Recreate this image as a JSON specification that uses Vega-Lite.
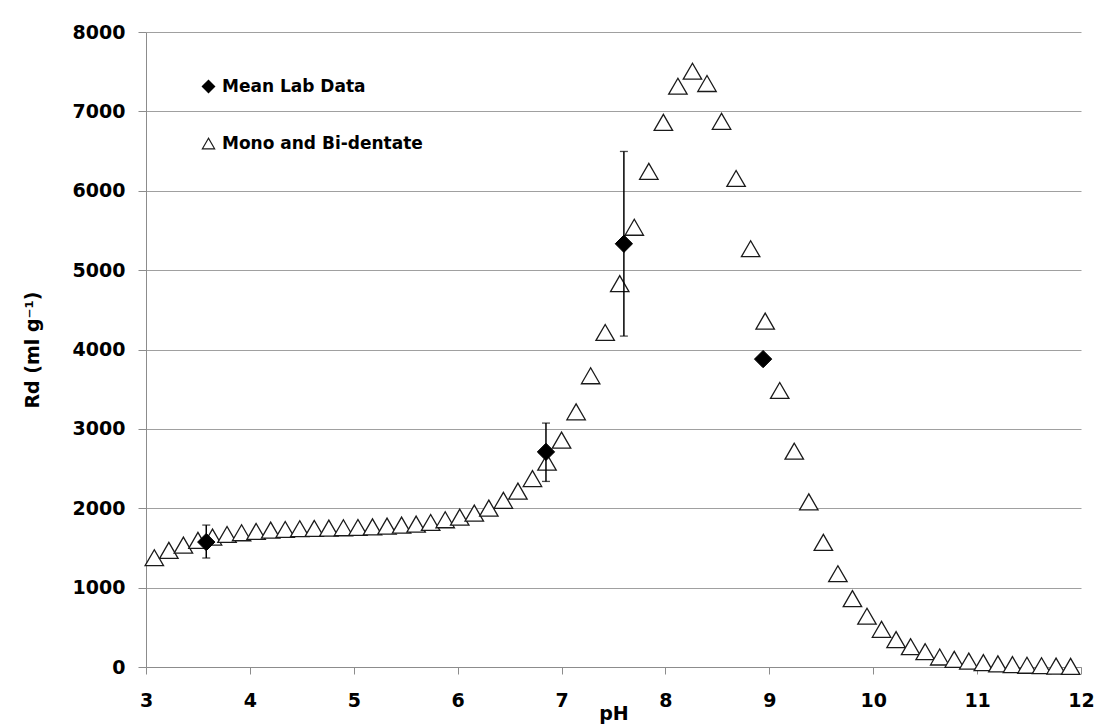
{
  "$schema": "https://vega.github.io/schema/vega-lite/v6.json",
  "width": 935,
  "height": 635,
  "autosize": {"type": "none"},
  "padding": {"left": 146, "top": 32, "right": 21, "bottom": 58},
  "background": "white",
  "config": {
    "view": {"stroke": null},
    "font": "DejaVu Sans",
    "axis": {
      "labelFont": "DejaVu Sans",
      "labelFontWeight": "bold",
      "labelFontSize": 19,
      "labelColor": "#000000",
      "titleFont": "DejaVu Sans",
      "titleFontWeight": "bold",
      "titleFontSize": 19,
      "titleColor": "#000000",
      "domainColor": "#8c8c8c",
      "tickColor": "#8c8c8c",
      "gridColor": "#a0a0a0",
      "gridWidth": 1,
      "domainWidth": 1,
      "tickWidth": 1
    },
    "legend": {
      "orient": "none",
      "legendX": 54,
      "legendY": 46,
      "direction": "vertical",
      "rowPadding": 38,
      "labelFont": "DejaVu Sans",
      "labelFontWeight": "bold",
      "labelFontSize": 17,
      "labelColor": "#000000",
      "labelOffset": 5,
      "labelLimit": 400,
      "symbolSize": 150,
      "symbolStrokeWidth": 1.2,
      "padding": 0
    }
  },
  "datasets": {
    "model": [
      {"pH": 3.08, "Rd": 1377, "series": "Mono and Bi-dentate"},
      {"pH": 3.22, "Rd": 1469, "series": "Mono and Bi-dentate"},
      {"pH": 3.36, "Rd": 1536, "series": "Mono and Bi-dentate"},
      {"pH": 3.50, "Rd": 1595, "series": "Mono and Bi-dentate"},
      {"pH": 3.64, "Rd": 1637, "series": "Mono and Bi-dentate"},
      {"pH": 3.78, "Rd": 1670, "series": "Mono and Bi-dentate"},
      {"pH": 3.92, "Rd": 1691, "series": "Mono and Bi-dentate"},
      {"pH": 4.06, "Rd": 1708, "series": "Mono and Bi-dentate"},
      {"pH": 4.20, "Rd": 1725, "series": "Mono and Bi-dentate"},
      {"pH": 4.34, "Rd": 1733, "series": "Mono and Bi-dentate"},
      {"pH": 4.48, "Rd": 1742, "series": "Mono and Bi-dentate"},
      {"pH": 4.62, "Rd": 1746, "series": "Mono and Bi-dentate"},
      {"pH": 4.76, "Rd": 1750, "series": "Mono and Bi-dentate"},
      {"pH": 4.90, "Rd": 1754, "series": "Mono and Bi-dentate"},
      {"pH": 5.04, "Rd": 1758, "series": "Mono and Bi-dentate"},
      {"pH": 5.18, "Rd": 1766, "series": "Mono and Bi-dentate"},
      {"pH": 5.32, "Rd": 1775, "series": "Mono and Bi-dentate"},
      {"pH": 5.46, "Rd": 1787, "series": "Mono and Bi-dentate"},
      {"pH": 5.60, "Rd": 1800, "series": "Mono and Bi-dentate"},
      {"pH": 5.74, "Rd": 1821, "series": "Mono and Bi-dentate"},
      {"pH": 5.88, "Rd": 1855, "series": "Mono and Bi-dentate"},
      {"pH": 6.02, "Rd": 1888, "series": "Mono and Bi-dentate"},
      {"pH": 6.16, "Rd": 1939, "series": "Mono and Bi-dentate"},
      {"pH": 6.30, "Rd": 2002, "series": "Mono and Bi-dentate"},
      {"pH": 6.44, "Rd": 2100, "series": "Mono and Bi-dentate"},
      {"pH": 6.58, "Rd": 2216, "series": "Mono and Bi-dentate"},
      {"pH": 6.72, "Rd": 2374, "series": "Mono and Bi-dentate"},
      {"pH": 6.86, "Rd": 2580, "series": "Mono and Bi-dentate"},
      {"pH": 7.00, "Rd": 2859, "series": "Mono and Bi-dentate"},
      {"pH": 7.14, "Rd": 3215, "series": "Mono and Bi-dentate"},
      {"pH": 7.28, "Rd": 3669, "series": "Mono and Bi-dentate"},
      {"pH": 7.42, "Rd": 4215, "series": "Mono and Bi-dentate"},
      {"pH": 7.56, "Rd": 4830, "series": "Mono and Bi-dentate"},
      {"pH": 7.70, "Rd": 5540, "series": "Mono and Bi-dentate"},
      {"pH": 7.84, "Rd": 6245, "series": "Mono and Bi-dentate"},
      {"pH": 7.98, "Rd": 6862, "series": "Mono and Bi-dentate"},
      {"pH": 8.12, "Rd": 7317, "series": "Mono and Bi-dentate"},
      {"pH": 8.26, "Rd": 7506, "series": "Mono and Bi-dentate"},
      {"pH": 8.40, "Rd": 7351, "series": "Mono and Bi-dentate"},
      {"pH": 8.54, "Rd": 6875, "series": "Mono and Bi-dentate"},
      {"pH": 8.68, "Rd": 6155, "series": "Mono and Bi-dentate"},
      {"pH": 8.82, "Rd": 5270, "series": "Mono and Bi-dentate"},
      {"pH": 8.96, "Rd": 4358, "series": "Mono and Bi-dentate"},
      {"pH": 9.10, "Rd": 3484, "series": "Mono and Bi-dentate"},
      {"pH": 9.24, "Rd": 2719, "series": "Mono and Bi-dentate"},
      {"pH": 9.38, "Rd": 2080, "series": "Mono and Bi-dentate"},
      {"pH": 9.52, "Rd": 1570, "series": "Mono and Bi-dentate"},
      {"pH": 9.66, "Rd": 1175, "series": "Mono and Bi-dentate"},
      {"pH": 9.80, "Rd": 862, "series": "Mono and Bi-dentate"},
      {"pH": 9.94, "Rd": 640, "series": "Mono and Bi-dentate"},
      {"pH": 10.08, "Rd": 475, "series": "Mono and Bi-dentate"},
      {"pH": 10.22, "Rd": 345, "series": "Mono and Bi-dentate"},
      {"pH": 10.36, "Rd": 256, "series": "Mono and Bi-dentate"},
      {"pH": 10.50, "Rd": 193, "series": "Mono and Bi-dentate"},
      {"pH": 10.64, "Rd": 126, "series": "Mono and Bi-dentate"},
      {"pH": 10.78, "Rd": 97, "series": "Mono and Bi-dentate"},
      {"pH": 10.92, "Rd": 75, "series": "Mono and Bi-dentate"},
      {"pH": 11.06, "Rd": 55, "series": "Mono and Bi-dentate"},
      {"pH": 11.20, "Rd": 40, "series": "Mono and Bi-dentate"},
      {"pH": 11.34, "Rd": 30, "series": "Mono and Bi-dentate"},
      {"pH": 11.48, "Rd": 22, "series": "Mono and Bi-dentate"},
      {"pH": 11.62, "Rd": 16, "series": "Mono and Bi-dentate"},
      {"pH": 11.76, "Rd": 12, "series": "Mono and Bi-dentate"},
      {"pH": 11.90, "Rd": 8, "series": "Mono and Bi-dentate"}
    ],
    "lab": [
      {"pH": 3.58, "Rd": 1574, "lo": 1373, "hi": 1788, "series": "Mean Lab Data"},
      {"pH": 6.85, "Rd": 2710, "lo": 2338, "hi": 3073, "series": "Mean Lab Data"},
      {"pH": 7.60, "Rd": 5332, "lo": 4169, "hi": 6495, "series": "Mean Lab Data"},
      {"pH": 8.94, "Rd": 3879, "lo": 3879, "hi": 3879, "series": "Mean Lab Data"}
    ]
  },
  "layer": [
    {
      "data": {"name": "model"},
      "mark": {"type": "point", "filled": true, "size": 340, "strokeWidth": 1.3, "opacity": 1},
      "encoding": {
        "x": {
          "field": "pH", "type": "quantitative",
          "scale": {"domain": [3, 12], "nice": false, "zero": false},
          "axis": {
            "title": "pH", "values": [3, 4, 5, 6, 7, 8, 9, 10, 11, 12], "format": "d",
            "grid": false, "tickSize": 7, "labelPadding": 17, "titlePadding": -6,
            "labelFlush": false
          }
        },
        "y": {
          "field": "Rd", "type": "quantitative",
          "scale": {"domain": [0, 8000], "nice": false},
          "axis": {
            "title": "Rd (ml g⁻¹)", "values": [0, 1000, 2000, 3000, 4000, 5000, 6000, 7000, 8000],
            "grid": true, "tickSize": 8, "labelPadding": 13, "titlePadding": 30,
            "format": "d", "labelFlush": false
          }
        },
        "shape": {
          "field": "series", "type": "nominal",
          "scale": {"domain": ["Mean Lab Data", "Mono and Bi-dentate"], "range": ["diamond", "triangle-up"]},
          "legend": {"title": null}
        },
        "fill": {
          "field": "series", "type": "nominal",
          "scale": {"domain": ["Mean Lab Data", "Mono and Bi-dentate"], "range": ["#000000", "#ffffff"]},
          "legend": {"title": null}
        },
        "stroke": {
          "field": "series", "type": "nominal",
          "scale": {"domain": ["Mean Lab Data", "Mono and Bi-dentate"], "range": ["#000000", "#1a1a1a"]},
          "legend": {"title": null}
        }
      }
    },
    {
      "data": {"name": "lab"},
      "mark": {"type": "rule", "color": "#000000", "strokeWidth": 1.5},
      "encoding": {
        "x": {"field": "pH", "type": "quantitative"},
        "y": {"field": "lo", "type": "quantitative"},
        "y2": {"field": "hi"}
      }
    },
    {
      "data": {"name": "lab"},
      "mark": {"type": "tick", "orient": "horizontal", "color": "#000000", "size": 8, "thickness": 1.3},
      "encoding": {
        "x": {"field": "pH", "type": "quantitative"},
        "y": {"field": "lo", "type": "quantitative"}
      }
    },
    {
      "data": {"name": "lab"},
      "mark": {"type": "tick", "orient": "horizontal", "color": "#000000", "size": 8, "thickness": 1.3},
      "encoding": {
        "x": {"field": "pH", "type": "quantitative"},
        "y": {"field": "hi", "type": "quantitative"}
      }
    },
    {
      "data": {"name": "lab"},
      "mark": {"type": "point", "filled": true, "size": 300, "strokeWidth": 1, "opacity": 1},
      "encoding": {
        "x": {"field": "pH", "type": "quantitative"},
        "y": {"field": "Rd", "type": "quantitative"},
        "shape": {"field": "series", "type": "nominal"},
        "fill": {"field": "series", "type": "nominal"},
        "stroke": {"field": "series", "type": "nominal"}
      }
    }
  ]
}
